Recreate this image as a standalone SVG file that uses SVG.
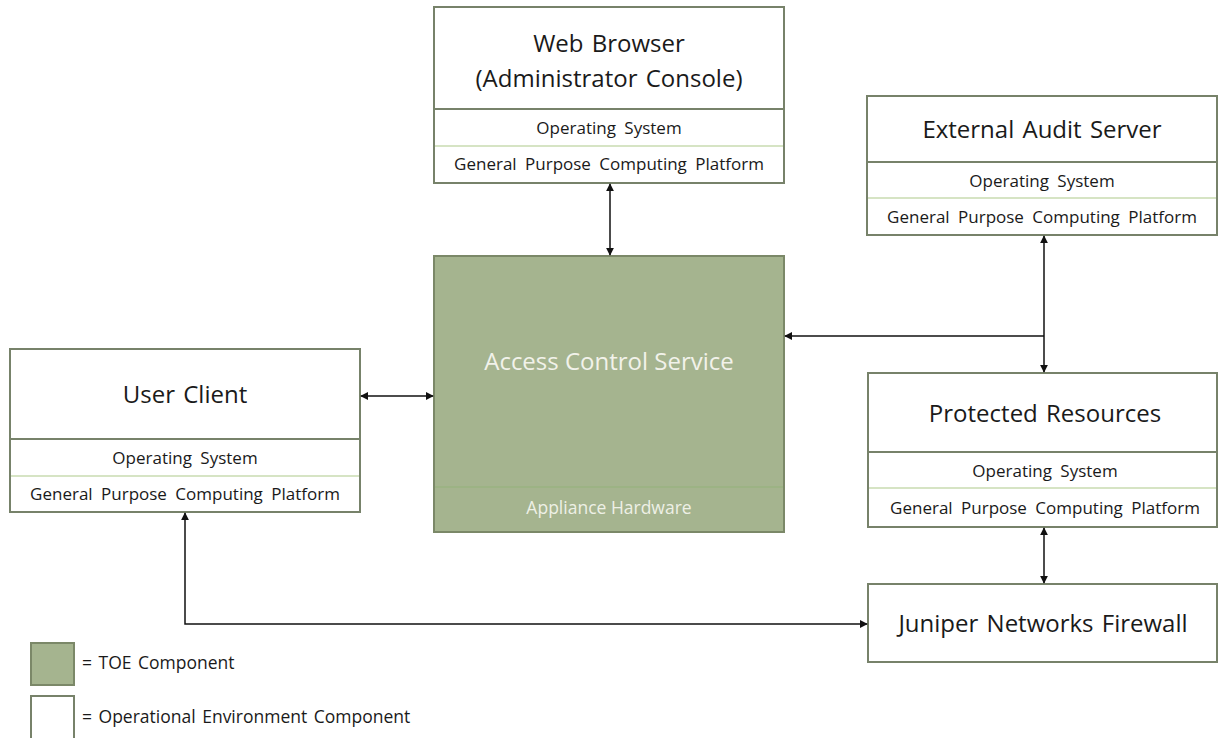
<svg xmlns="http://www.w3.org/2000/svg" width="1218" height="738" viewBox="0 0 1218 738">
  <style>
    .box { fill: #ffffff; stroke: #77826a; stroke-width: 2; }
    .toe { fill: #a5b48f; stroke: #7b8868; stroke-width: 2; }
    .div { stroke: #77826a; stroke-width: 2; }
    .ldiv { stroke: #c9dbb0; stroke-width: 1.5; }
    .gdiv { stroke: #94b27a; stroke-width: 1.2; }
    .title { font-family: "Open Sans", "Liberation Sans", sans-serif; font-size: 24px; fill: #1a1a1a; text-anchor: middle; word-spacing: 2px; }
    .sub { font-family: "Open Sans", "Liberation Sans", sans-serif; font-size: 17px; fill: #1a1a1a; text-anchor: middle; word-spacing: 4px; }
    .wt { font-family: "Open Sans", "Liberation Sans", sans-serif; font-size: 24px; fill: #f2f2ea; text-anchor: middle; }
    .ws { font-family: "Open Sans", "Liberation Sans", sans-serif; font-size: 17.5px; fill: #eef0e6; text-anchor: middle; }
    .leg { font-family: "Open Sans", "Liberation Sans", sans-serif; font-size: 17.5px; fill: #1a1a1a; word-spacing: 2px; }
    .conn { fill: none; stroke: #111111; stroke-width: 1.5; }
  </style>
  <defs>
    <marker id="arr" viewBox="0 0 10 10" refX="9" refY="5" markerWidth="8" markerHeight="8" orient="auto-start-reverse" markerUnits="userSpaceOnUse">
      <path d="M0,0 L10,5 L0,10 z" fill="#111111"/>
    </marker>
  </defs>
  <rect width="1218" height="738" fill="#ffffff"/>

  <g id="web-browser">
    <rect class="box" x="434" y="7" width="350" height="176"/>
    <line class="div" x1="434" y1="109" x2="784" y2="109"/>
    <line class="ldiv" x1="435" y1="146" x2="783" y2="146"/>
    <text class="title" x="609" y="52">Web Browser</text>
    <text class="title" x="609" y="87">(Administrator Console)</text>
    <text class="sub" x="609" y="134">Operating System</text>
    <text class="sub" x="609" y="170">General Purpose Computing Platform</text>
  </g>

  <g id="external-audit-server">
    <rect class="box" x="867" y="96" width="350" height="139"/>
    <line class="div" x1="867" y1="162" x2="1217" y2="162"/>
    <line class="ldiv" x1="868" y1="198" x2="1216" y2="198"/>
    <text class="title" x="1042" y="138">External Audit Server</text>
    <text class="sub" x="1042" y="187">Operating System</text>
    <text class="sub" x="1042" y="223">General Purpose Computing Platform</text>
  </g>

  <g id="user-client">
    <rect class="box" x="10" y="349" width="350" height="163"/>
    <line class="div" x1="10" y1="439" x2="360" y2="439"/>
    <line class="ldiv" x1="11" y1="476" x2="359" y2="476"/>
    <text class="title" x="185" y="403">User Client</text>
    <text class="sub" x="185" y="464">Operating System</text>
    <text class="sub" x="185" y="500">General Purpose Computing Platform</text>
  </g>

  <g id="access-control-service">
    <rect class="toe" x="434" y="256" width="350" height="276"/>
    <line class="gdiv" x1="435" y1="487" x2="783" y2="487"/>
    <text class="wt" x="609" y="370">Access Control Service</text>
    <text class="ws" x="609" y="514">Appliance Hardware</text>
  </g>

  <g id="protected-resources">
    <rect class="box" x="868" y="373" width="349" height="154"/>
    <line class="div" x1="868" y1="452" x2="1217" y2="452"/>
    <line class="ldiv" x1="869" y1="488" x2="1216" y2="488"/>
    <text class="title" x="1045" y="422">Protected Resources</text>
    <text class="sub" x="1045" y="477">Operating System</text>
    <text class="sub" x="1045" y="514">General Purpose Computing Platform</text>
  </g>

  <g id="juniper-firewall">
    <rect class="box" x="868" y="584" width="349" height="78"/>
    <text class="title" x="1043" y="632">Juniper Networks Firewall</text>
  </g>

  <g id="connectors">
    <line class="conn" x1="610" y1="184" x2="610" y2="255" marker-start="url(#arr)" marker-end="url(#arr)"/>
    <line class="conn" x1="361" y1="396" x2="433" y2="396" marker-start="url(#arr)" marker-end="url(#arr)"/>
    <line class="conn" x1="1044" y1="236" x2="1044" y2="372" marker-start="url(#arr)" marker-end="url(#arr)"/>
    <line class="conn" x1="1044" y1="336" x2="785" y2="336" marker-end="url(#arr)"/>
    <line class="conn" x1="1044" y1="528" x2="1044" y2="583" marker-start="url(#arr)" marker-end="url(#arr)"/>
    <polyline class="conn" points="185,513 185,624 867,624" marker-start="url(#arr)" marker-end="url(#arr)"/>
  </g>

  <g id="legend">
    <rect class="toe" x="31" y="643" width="43" height="42"/>
    <text class="leg" x="82" y="669">= TOE Component</text>
    <rect class="box" x="31" y="696" width="43" height="46"/>
    <text class="leg" x="82" y="723">= Operational Environment Component</text>
  </g>
</svg>
